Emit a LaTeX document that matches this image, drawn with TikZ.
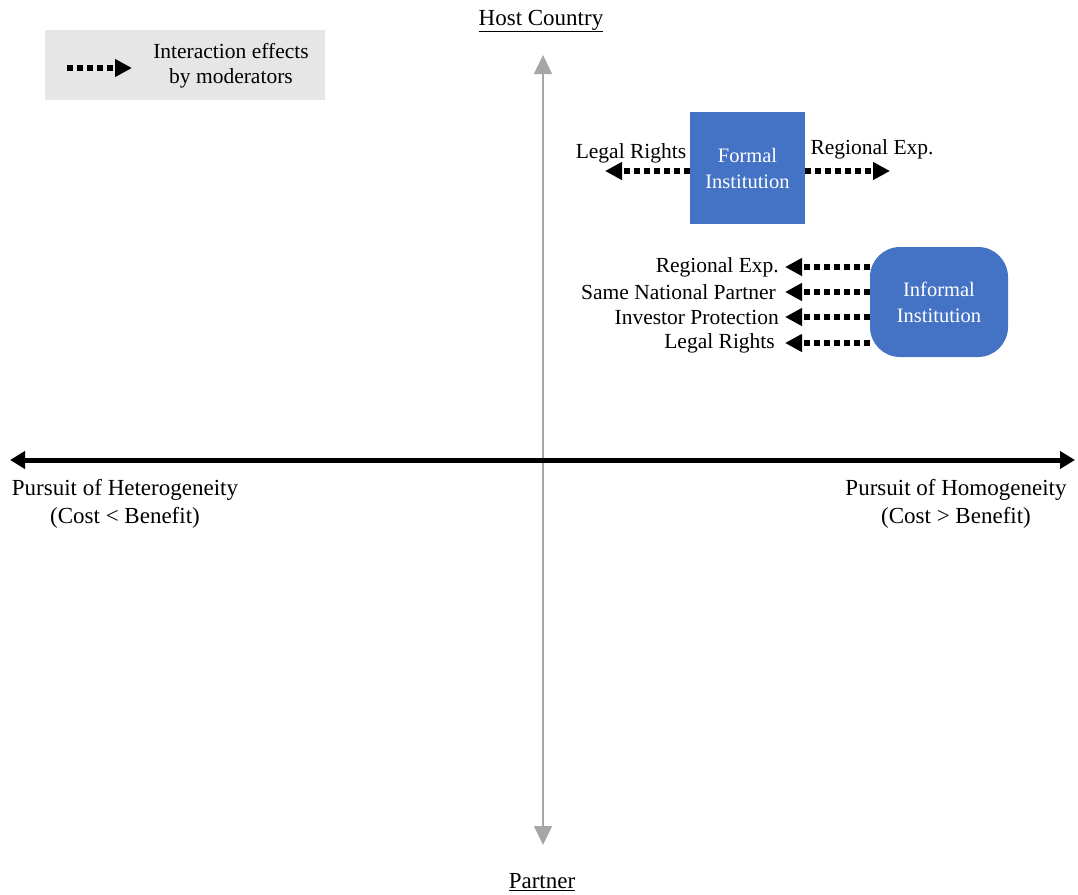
\documentclass[tikz,border=0pt]{standalone}
\usepackage{fontspec}
\setmainfont{Liberation Serif}
\usetikzlibrary{arrows.meta}
\definecolor{boxblue}{HTML}{4472C4}
\definecolor{legendgray}{HTML}{E7E6E6}
\definecolor{axisgray}{HTML}{A6A6A6}
\pgfdeclarelayer{back}
\pgfsetlayers{back,main}
\begin{document}
\begin{tikzpicture}[x=1pt,y=-1pt,
  lbl/.style={font=\fontsize{21.5}{25}\selectfont, inner sep=0pt, align=center},
  biglbl/.style={lbl, font=\fontsize{23}{28}\selectfont},
  inst/.style={fill=boxblue, text=white, font=\fontsize{20.5}{26}\selectfont,
    align=center, inner sep=0pt},
  modarrow/.style={line width=5.5pt, dash pattern=on 6pt off 4pt,
    -{Triangle[length=17pt,width=17pt]}},
  hax/.style={line width=5pt, {Triangle[length=15pt,width=17pt]}-{Triangle[length=15pt,width=17pt]}},
  vax/.style={axisgray, line width=1.5pt, {Triangle[length=19pt,width=18pt]}-{Triangle[length=19pt,width=18pt]}}]
\useasboundingbox (0,0) rectangle (1078,894);

% legend
\node[fill=legendgray, minimum width=280pt, minimum height=70pt, inner sep=0pt] (legend) at (185,65) {};
\node[lbl] (legtext) at (231,66) {Interaction effects\\by moderators};
\coordinate (lgS) at (67,68);
\coordinate (lgE) at (132,68);
\draw[modarrow] (lgS) -- (lgE);

% axes
\coordinate (vT) at (543,55);
\coordinate (vB) at (543,845);
\draw[vax] (vT) -- (vB);
\coordinate (hL) at (10,460);
\coordinate (hR) at (1075,460);
\draw[hax] (hL) -- (hR);

\node[biglbl] (host) at (541,21) {\underline{Host Country}};
\node[biglbl] (partner) at (542,882) {\underline{Partner}};
\node[biglbl] (hetero) at (125,504) {Pursuit of Heterogeneity\\(Cost < Benefit)};
\node[biglbl] (homo) at (956,504) {Pursuit of Homogeneity\\(Cost > Benefit)};

% formal institution
\node[inst, minimum width=115pt, minimum height=112pt] (formal) at (747.5,168) {Formal\\Institution};
\node[lbl] (flegal) at (631,153) {Legal Rights};
\node[lbl] (fregion) at (872,149) {Regional Exp.};
\coordinate (flTip) at (605,171);
\coordinate (frTip) at (890,171);
\draw[modarrow] (formal.west |- flTip) -- (flTip);
\draw[modarrow] (formal.east |- frTip) -- (frTip);

% informal institution
\node[inst, rounded corners=30pt, minimum width=138pt, minimum height=110pt] (informal) at (939,302) {Informal\\Institution};
\node[lbl, anchor=east] (ir1) at (779,267) {Regional Exp.};
\node[lbl, anchor=east] (ir2) at (776,292) {Same National Partner};
\node[lbl, anchor=east] (ir3) at (779,317) {Investor Protection};
\node[lbl, anchor=east] (ir4) at (775,343) {Legal Rights};
\begin{pgfonlayer}{back}
\draw[modarrow] (ir1.east -| informal.west) -- ([xshift=6pt]ir1.east);
\draw[modarrow] (ir2.east -| informal.west) -- ([xshift=9pt]ir2.east);
\draw[modarrow] (ir3.east -| informal.west) -- ([xshift=6pt]ir3.east);
\draw[modarrow] (ir4.east -| informal.west) -- ([xshift=10pt]ir4.east);
\end{pgfonlayer}
\end{tikzpicture}
\end{document}
